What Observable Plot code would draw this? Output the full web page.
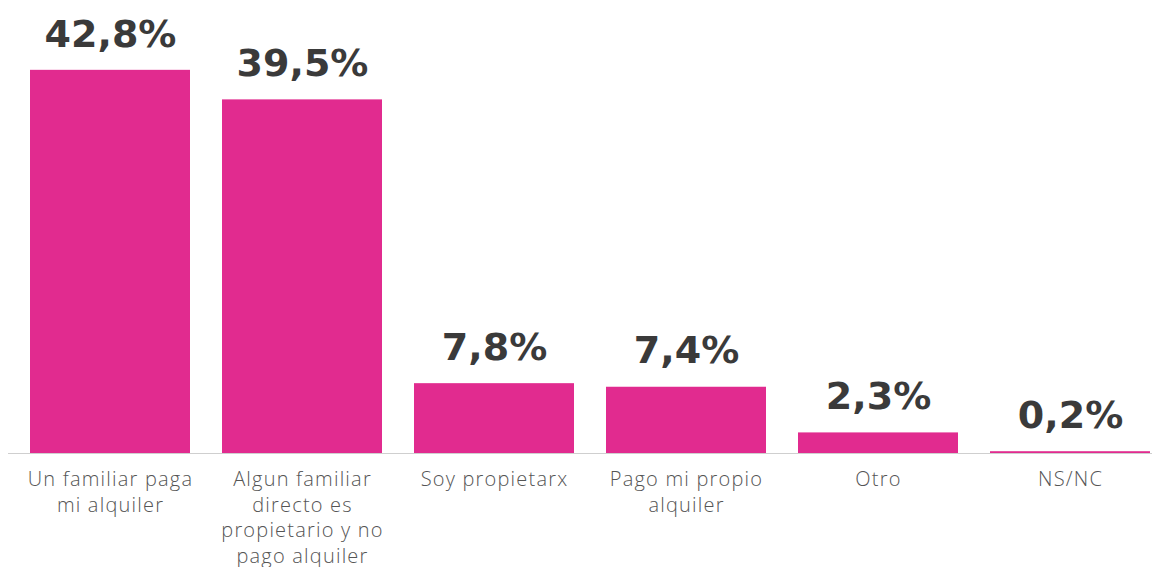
<!DOCTYPE html>
<html>
<head>
<meta charset="utf-8">
<script src="https://cdn.jsdelivr.net/npm/d3@7"></script>
<script src="https://cdn.jsdelivr.net/npm/@observablehq/plot@0.6"></script>
<style>
  html, body { margin: 0; padding: 0; background: #fff; }
  #chart svg { display: block; }
  #chart .catlabel text { letter-spacing: 1.2px; }
</style>
</head>
<body>
<div id="chart"></div>
<script>
const categories = [
  "Un familiar paga\nmi alquiler",
  "Algun familiar\ndirecto es\npropietario y no\npago alquiler",
  "Soy propietarx",
  "Pago mi propio\nalquiler",
  "Otro",
  "NS/NC"
];
const values = [42.8, 39.5, 7.8, 7.4, 2.3, 0.2];
const valueLabels = ["42,8%", "39,5%", "7,8%", "7,4%", "2,3%", "0,2%"];

const data = categories.map((c, i) => ({cat: c, value: values[i], label: valueLabels[i]}));

const chart = Plot.plot({
  width: 1158,
  height: 567,
  marginTop: 0,
  marginLeft: 30,
  marginRight: 8,
  marginBottom: 114,
  style: {background: "#fff", overflow: "visible"},
  x: {domain: categories, paddingInner: 32/192, paddingOuter: 0, axis: null},
  y: {domain: [0, 50.6], axis: null},
  marks: [
    Plot.barY(data, {x: "cat", y: "value", fill: "#E12B8F"}),
    Plot.ruleY([0], {stroke: "#cfcfcf", strokeWidth: 1.2, insetLeft: -22, insetRight: -2}),
    Plot.text(data, {
      x: "cat", y: "value", text: "label",
      dy: -36, fontSize: 38, fontWeight: "bold",
      fontFamily: "'DejaVu Sans', sans-serif",
      fill: "#3a3a3a", lineAnchor: "middle"
    }),
    Plot.text(data, {
      x: "cat", y: 0, text: "cat",
      dy: 14, lineAnchor: "top", lineHeight: 1.29,
      fontSize: 20, fontWeight: 300,
      fontFamily: "'Open Sans', sans-serif",
      fill: "#555", className: "catlabel"
    })
  ]
});
document.getElementById("chart").append(chart);
</script>
</body>
</html>
